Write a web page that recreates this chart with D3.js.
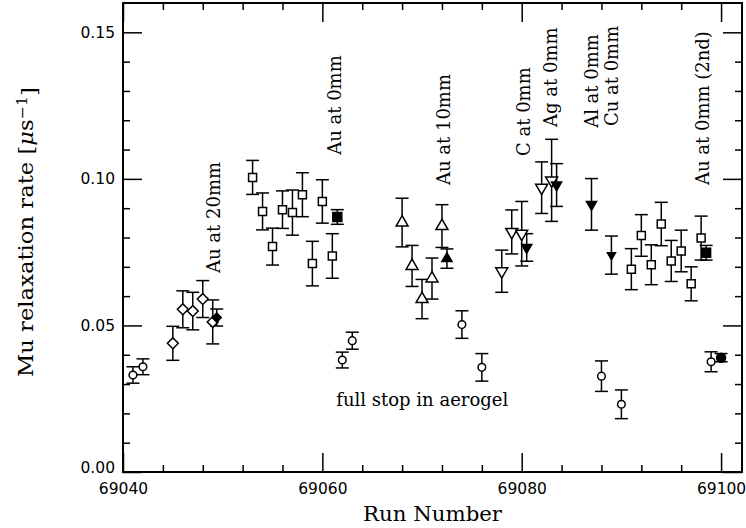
<!DOCTYPE html>
<html>
<head>
<meta charset="utf-8">
<script src="https://cdn.jsdelivr.net/npm/d3@7"></script>
<style>
  body { margin: 0; background: #fff; }
</style>
</head>
<body>
<div id="chart"></div>
<script>
// values: [run, rate, error]
const openCircles = [
  [69041, 0.0331, 0.0028], [69042, 0.0359, 0.0027], [69062, 0.0382, 0.0027],
  [69063, 0.0448, 0.0029], [69074, 0.0503, 0.0047], [69076, 0.0357, 0.0047],
  [69088, 0.0327, 0.0052], [69090, 0.0231, 0.0049], [69099, 0.0376, 0.0034]
];
const filledCircles = [[69100, 0.0390, 0.0014]];

const openDiamonds = [
  [69045, 0.0439, 0.0058], [69046, 0.0555, 0.0063], [69047, 0.0549, 0.0064],
  [69048, 0.0590, 0.0063], [69049, 0.0512, 0.0075]
];
const filledDiamonds = [[69049.4, 0.0527, 0.0029]];

const openSquares = [
  [69053, 0.1005, 0.0058], [69054, 0.0889, 0.0063], [69055, 0.0769, 0.0063],
  [69056, 0.0895, 0.0064], [69057, 0.0885, 0.0077], [69058, 0.0946, 0.0075],
  [69059, 0.0711, 0.0076], [69060, 0.0923, 0.0074], [69061, 0.0737, 0.0076],
  [69091, 0.0692, 0.0070], [69092, 0.0807, 0.0071], [69093, 0.0707, 0.0068],
  [69094, 0.0846, 0.0074], [69095, 0.0720, 0.0070], [69096, 0.0754, 0.0071],
  [69097, 0.0642, 0.0058], [69098, 0.0798, 0.0075]
];
const filledSquares = [[69061.5, 0.0870, 0.0025], [69098.5, 0.0748, 0.0025]];

const openTrianglesUp = [
  [69068, 0.0851, 0.0083], [69069, 0.0703, 0.0070], [69070, 0.0590, 0.0067],
  [69071, 0.0660, 0.0070], [69072, 0.0839, 0.0073]
];
const filledTrianglesUp = [[69072.5, 0.0728, 0.0033]];

const openTrianglesDown = [
  [69078, 0.0685, 0.0072], [69079, 0.0819, 0.0075], [69080, 0.0813, 0.0110],
  [69082, 0.0970, 0.0088], [69083, 0.0995, 0.0140]
];
const filledTrianglesDown = [[69080.5, 0.0766, 0.0047], [69083.5, 0.0979, 0.0073], [69087, 0.0913, 0.0088]];
const smallTrianglesDown = [[69089, 0.0740, 0.0065]];

// target labels: [text, run, rate] (start of the rotated text)
const targetLabels = [
  ["Au at 20mm", 69049.7, 0.0679],
  ["Au at 0mm", 69061.9, 0.1082],
  ["Au at 10mm", 69072.8, 0.0979],
  ["C at 0mm", 69080.8, 0.1078],
  ["Ag at 0mm", 69083.5, 0.1177],
  ["Al at 0mm", 69087.7, 0.1174],
  ["Cu at 0mm", 69089.7, 0.1180],
  ["Au at 0mm (2nd)", 69098.8, 0.0979]
];
const noteText = "full stop in aerogel";
const notePos = [69061.4, 0.0225];

const xMajor = [69040, 69060, 69080, 69100];
const xMinor = d3.range(69044, 69102, 4).filter(v => !xMajor.includes(v));
const yMajor = [0, 0.05, 0.10, 0.15];
const yMinor = d3.range(0.01, 0.16, 0.01).filter(v => !yMajor.some(m => Math.abs(m - v) < 1e-6));

const W = 746, H = 528;
const x = d3.scaleLinear().domain([69040, 69102.1]).range([123, 742]);
const y = d3.scaleLinear().domain([0, 0.16]).range([472, 3]);

const svg = d3.select('#chart').append('svg')
  .attr('width', W).attr('height', H);

// axes, ticks pointing inwards on all four sides
function ticks(axis, tx, ty, values, size, labels) {
  const g = svg.append('g')
    .attr('transform', `translate(${tx},${ty})`)
    .call(axis.tickValues(values).tickSize(-size).tickSizeOuter(0)
      .tickPadding(labels ? (axis === xb ? 11 : 8) : 0)
      .tickFormat(labels ? d3.format(labels) : ''));
  g.select('.domain').remove();
  g.selectAll('line').attr('stroke', '#000').attr('stroke-width', 1.5);
  g.selectAll('text').attr('fill', '#000')
    .style('font-family', '"DejaVu Sans", sans-serif').style('font-size', '15.5px');
  return g;
}
const xb = d3.axisBottom(x);
ticks(xb, 0, 472, xMajor, 19, 'd');
ticks(d3.axisBottom(x), 0, 472, xMinor, 7, null);
ticks(d3.axisTop(x), 0, 3, xMajor, 19, null);
ticks(d3.axisTop(x), 0, 3, xMinor, 7, null);
const yl = ticks(d3.axisLeft(y), 123, 0, yMajor, 19, '.2f');
yl.selectAll('text').filter(d => d === 0).attr('dy', '0.05em');
ticks(d3.axisLeft(y), 123, 0, yMinor, 7, null);
ticks(d3.axisRight(y), 742, 0, yMajor, 19, null);
ticks(d3.axisRight(y), 742, 0, yMinor, 7, null);

svg.append('rect')
  .attr('x', 123).attr('y', 3).attr('width', 742 - 123).attr('height', 472 - 3)
  .attr('fill', 'none').attr('stroke', '#000').attr('stroke-width', 2);

// series
const series = [
  { data: openCircles, type: d3.symbolCircle, size: 46, fill: '#fff', rot: 0 },
  { data: filledCircles, type: d3.symbolCircle, size: 64, fill: '#000', rot: 0 },
  { data: openDiamonds, type: d3.symbolSquare, size: 60, fill: '#fff', rot: 45 },
  { data: filledDiamonds, type: d3.symbolSquare, size: 42, fill: '#000', rot: 45 },
  { data: openSquares, type: d3.symbolSquare, size: 64, fill: '#fff', rot: 0 },
  { data: filledSquares, type: d3.symbolSquare, size: 81, fill: '#000', rot: 0 },
  { data: openTrianglesUp, type: d3.symbolTriangle, size: 62, fill: '#fff', rot: 0 },
  { data: filledTrianglesUp, type: d3.symbolTriangle, size: 44, fill: '#000', rot: 0 },
  { data: openTrianglesDown, type: d3.symbolTriangle, size: 62, fill: '#fff', rot: 180 },
  { data: filledTrianglesDown, type: d3.symbolTriangle, size: 44, fill: '#000', rot: 180 },
  { data: smallTrianglesDown, type: d3.symbolTriangle, size: 28, fill: '#000', rot: 180 }
];

const capHalf = 6.5;
const bars = svg.append('g').attr('stroke', '#000').attr('stroke-width', 1.5).attr('fill', 'none');
series.forEach(s => {
  const g = bars.selectAll(null).data(s.data).enter().append('g');
  g.append('line')
    .attr('x1', d => x(d[0])).attr('x2', d => x(d[0]))
    .attr('y1', d => y(d[1] - d[2])).attr('y2', d => y(d[1] + d[2]));
  g.append('line')
    .attr('x1', d => x(d[0]) - capHalf).attr('x2', d => x(d[0]) + capHalf)
    .attr('y1', d => y(d[1] + d[2])).attr('y2', d => y(d[1] + d[2]));
  g.append('line')
    .attr('x1', d => x(d[0]) - capHalf).attr('x2', d => x(d[0]) + capHalf)
    .attr('y1', d => y(d[1] - d[2])).attr('y2', d => y(d[1] - d[2]));
});

series.forEach(s => {
  svg.selectAll(null).data(s.data).enter().append('path')
    .attr('d', d3.symbol().type(s.type).size(s.size))
    .attr('transform', d => `translate(${x(d[0])},${y(d[1])}) rotate(${s.rot})`)
    .attr('fill', s.fill)
    .attr('stroke', '#000')
    .attr('stroke-width', 1.5);
});

// labels
svg.selectAll('.target').data(targetLabels).enter().append('text')
  .attr('class', 'target')
  .attr('transform', d => `translate(${x(d[1])},${y(d[2])}) rotate(-90)`)
  .style('font-family', '"DejaVu Serif", serif')
  .style('font-size', '18px')
  .attr('fill', '#000')
  .text(d => d[0]);

svg.append('text')
  .attr('x', x(notePos[0])).attr('y', y(notePos[1]))
  .style('font-family', '"DejaVu Serif", serif')
  .style('font-size', '18px')
  .text(noteText);

svg.append('text')
  .attr('x', (123 + 742) / 2).attr('y', 520.5)
  .attr('text-anchor', 'middle')
  .attr('textLength', 139).attr('lengthAdjust', 'spacingAndGlyphs')
  .style('font-family', '"DejaVu Serif", serif')
  .style('font-size', '20px')
  .text('Run Number');

const yt = svg.append('text')
  .attr('transform', 'translate(33,232) rotate(-90)')
  .attr('text-anchor', 'middle')
  .attr('textLength', 290).attr('lengthAdjust', 'spacingAndGlyphs')
  .style('font-family', '"DejaVu Serif", serif')
  .style('font-size', '20px');
yt.append('tspan').text('Mu relaxation rate [');
yt.append('tspan').style('font-style', 'italic').text('\u03bc');
yt.append('tspan').text('s');
yt.append('tspan').attr('dy', '-0.45em').style('font-size', '14px').text('\u22121');
yt.append('tspan').attr('dy', '0.45em').text(']');
</script>
</body>
</html>
